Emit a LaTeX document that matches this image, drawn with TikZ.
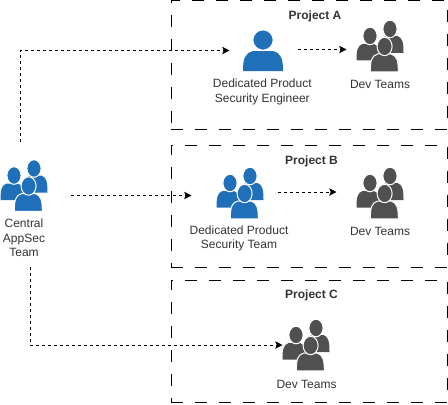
\documentclass[tikz,border=0pt]{standalone}
\usepackage{fontspec}
\setmainfont{Liberation Sans}
\usepackage{xcolor}
\usetikzlibrary{shapes.geometric, arrows.meta}
\definecolor{appsecblue}{HTML}{1F70B8}
\definecolor{devgray}{HTML}{505050}
\definecolor{labelgray}{HTML}{333333}
\newcommand{\personbody}[4]{%
  ({#1},{#4}) .. controls ({#1},{(#3)+0.4*((#4)-(#3))}) and ({(#1)+0.04*((#2)-(#1))},{(#3)+0.1*((#4)-(#3))}) .. ({(#1)+0.26*((#2)-(#1))},{#3})
  -- ({(#1)+0.74*((#2)-(#1))},{#3})
  .. controls ({(#2)-0.04*((#2)-(#1))},{(#3)+0.1*((#4)-(#3))}) and ({#2},{(#3)+0.4*((#4)-(#3))}) .. ({#2},{#4}) -- cycle}

\begin{document}
\begin{tikzpicture}[x=0.75pt, y=-0.75pt, line width=0.75pt]
        % Define styles for the boxes, icons and labels
        \tikzstyle{projectbox} = [rectangle, draw, line width=0.75pt, dash pattern=on 9pt off 9pt, minimum width=207pt, inner sep=0pt]
        \tikzstyle{groupicon} = [rectangle, minimum width=34.5pt, minimum height=37.5pt, inner sep=0pt]
        \tikzstyle{singleicon} = [rectangle, minimum width=30pt, minimum height=30.75pt, inner sep=0pt]
        \tikzstyle{caption} = [text=labelgray, font=\fontsize{9}{10.8}\selectfont, align=center, inner sep=0pt]
        \tikzstyle{title} = [text=labelgray, font=\fontsize{9}{10.5}\selectfont\bfseries, inner sep=0pt]
        \tikzstyle{arrow} = [line width=0.75pt, dash pattern=on 2.25pt off 2.25pt, -{Stealth[length=5.5pt, width=5.5pt, inset=1.2pt]}]
        \tikzset{
          onegroup/.pic={
            \path[pic actions] \personbody{-23.5}{0}{-2}{14.5};
            \path[pic actions, draw=white, line width=0.75pt] (-10,-10) ellipse [x radius=7.1, y radius=8.8];
            \path[pic actions] \personbody{0}{23.5}{-10}{7};
            \path[pic actions, draw=white, line width=0.75pt] (10,-17) ellipse [x radius=7.1, y radius=8.8];
            \path[pic actions, draw=white, line width=0.75pt] \personbody{-9.7}{18.3}{8}{25.9};
            \path[pic actions, draw=white, line width=0.75pt] (4.6,0.5) ellipse [x radius=7.5, y radius=9.2];
          },
          oneperson/.pic={
            \path[pic actions] \personbody{-20}{20}{0.5}{20.5};
            \path[pic actions, draw=white, line width=1.1pt] (0,-10.5) circle [radius=10.4];
          }
        }
        \useasboundingbox (0,0) rectangle (448,404);

        % Dashed project areas
        \node (projecta) [projectbox, minimum height=97.1pt] at (309,65.25) {};
        \node (projectb) [projectbox, minimum height=91.5pt] at (309,206) {};
        \node (projectc) [projectbox, minimum height=91.5pt] at (309,341) {};
        \node (titlea) [title] at (315,16) {Project A};
        \node (titleb) [title] at (311.5,161) {Project B};
        \node (titlec) [title] at (311.5,295.5) {Project C};

        % Icon nodes
        \node (central) [groupicon] at (24,185.5) {};
        \node (engineer) [singleicon] at (263,50.5) {};
        \node (devteamsa) [groupicon, right of=engineer, node distance=87.75pt, yshift=3.4pt] {};
        \node (secteam) [groupicon] at (240,193) {};
        \node (devteamsb) [groupicon, right of=secteam, node distance=105pt] {};
        \node (devteamsc) [groupicon] at (306,345) {};
        \pic [fill=appsecblue] at (central) {onegroup};
        \pic [fill=appsecblue] at (engineer) {oneperson};
        \pic [fill=devgray] at (devteamsa) {onegroup};
        \pic [fill=appsecblue] at (secteam) {onegroup};
        \pic [fill=devgray] at (devteamsb) {onegroup};
        \pic [fill=devgray] at (devteamsc) {onegroup};

        % Labels below the icons
        \node (centrallabel) [caption, below of=central, node distance=39.4pt] {Central\\AppSec\\Team};
        \node (engineerlabel) [caption, below of=engineer, node distance=30.9pt, xshift=-0.5pt] {Dedicated Product\\Security Engineer};
        \node (devlabela) [caption, below of=devteamsa, node distance=28.8pt] {Dev Teams};
        \node (secteamlabel) [caption, below of=secteam, node distance=34.1pt, xshift=-0.75pt] {Dedicated Product\\Security Team};
        \node (devlabelb) [caption, below of=devteamsb, node distance=28.8pt] {Dev Teams};
        \node (devlabelc) [caption, below of=devteamsc, node distance=29.2pt, xshift=0.4pt] {Dev Teams};

        % Arrows
        \draw [arrow, shorten <=13.5pt, shorten >=9.75pt] ([shift={(-4,0)}]central.north) |- (engineer.west);
        \draw [arrow, shorten <=10.5pt, shorten >=7.5pt] (engineer.east |- 0,49.5) -- (devteamsa.west |- 0,49.5);
        \draw [arrow, shorten <=17.25pt, shorten >=18.75pt] (central.east |- 0,195.5) -- (secteam.west |- 0,195.5);
        \draw [arrow, shorten <=10.5pt, shorten >=15pt] (secteam.east |- 0,192) -- (devteamsb.west |- 0,192);
        \draw [arrow, shorten <=7.5pt] ([shift={(6,0)}]centrallabel.south) |- (devteamsc.west);
\end{tikzpicture}
\end{document}
